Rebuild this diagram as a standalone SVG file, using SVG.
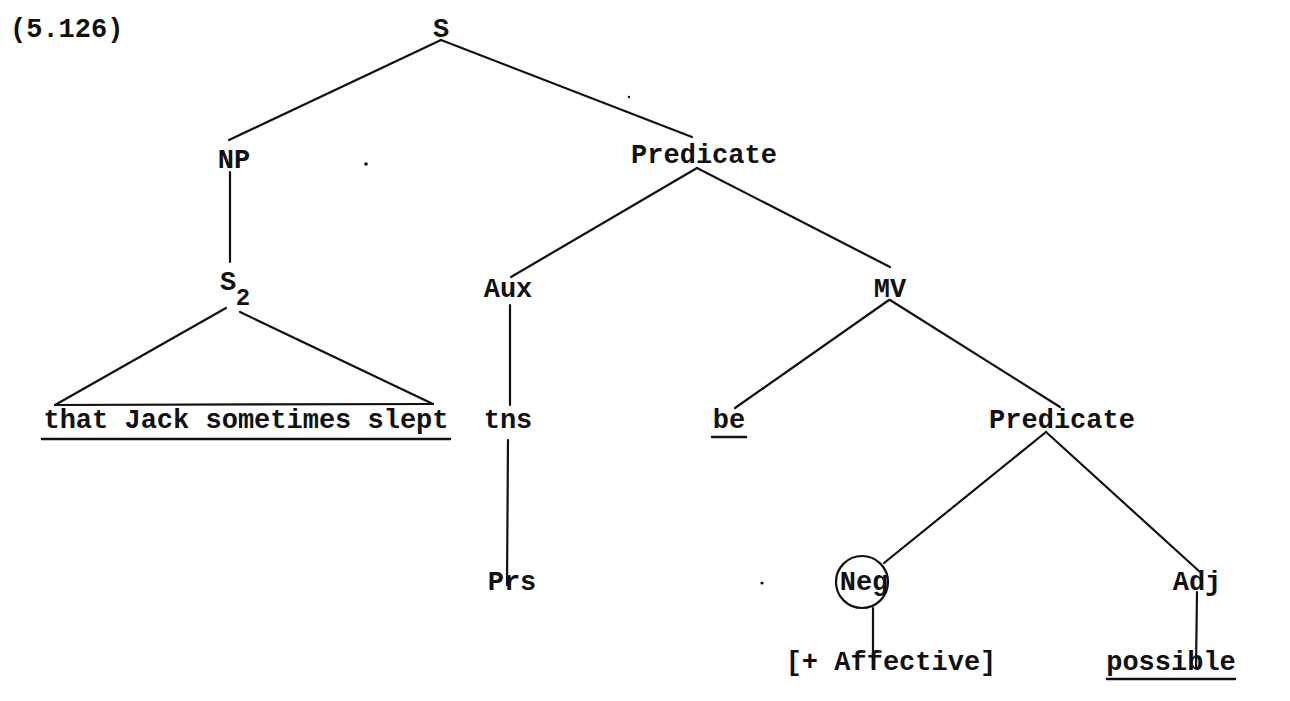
<svg xmlns="http://www.w3.org/2000/svg" width="1290" height="701" viewBox="0 0 1290 701">
<style>
text{font-family:"Liberation Mono","DejaVu Sans Mono",monospace;font-weight:bold;font-size:27px;fill:#111}
.sub{font-size:24px}
line,.c{stroke:#111;stroke-width:2.2;fill:none;stroke-linecap:round}
.u{stroke-width:2.5}
</style>
<rect width="1290" height="701" fill="#fff"/>
<text x="10" y="37">(5.126)</text>
<g id="connectors">
<line x1="441" y1="40" x2="229" y2="140"/>
<line x1="441" y1="40" x2="692" y2="137"/>
<line x1="230" y1="172" x2="230" y2="262"/>
<line x1="226" y1="308" x2="55" y2="405"/>
<line x1="240" y1="312" x2="433" y2="404"/>
<line x1="55" y1="405" x2="433" y2="404"/>
<line x1="697" y1="168" x2="511" y2="277"/>
<line x1="697" y1="168" x2="890" y2="267"/>
<line x1="510" y1="305" x2="510" y2="405"/>
<line x1="508" y1="440" x2="507" y2="585"/>
<line x1="889" y1="300" x2="735" y2="408"/>
<line x1="890" y1="300" x2="1060" y2="407"/>
<line x1="1046" y1="432" x2="884" y2="563"/>
<line x1="1046" y1="432" x2="1200" y2="572"/>
<line x1="873" y1="608" x2="873" y2="668"/>
<line x1="1197" y1="592" x2="1196" y2="668"/>
</g>
<g id="n-S"><text x="441" y="37" text-anchor="middle">S</text></g>
<g id="n-NP"><text x="234" y="168" text-anchor="middle">NP</text></g>
<g id="n-Predicate1"><text x="704" y="163" text-anchor="middle">Predicate</text></g>
<g id="n-S2"><text x="228" y="290" text-anchor="middle">S</text><text class="sub" x="243" y="305" text-anchor="middle">2</text></g>
<g id="n-Aux"><text x="508" y="297" text-anchor="middle">Aux</text></g>
<g id="n-MV"><text x="890" y="297" text-anchor="middle">MV</text></g>
<g id="n-that"><text x="246" y="428" text-anchor="middle">that Jack sometimes slept</text><line class="u" x1="42" y1="439" x2="450" y2="439"/></g>
<g id="n-tns"><text x="508" y="428" text-anchor="middle">tns</text></g>
<g id="n-be"><text x="729" y="428" text-anchor="middle">be</text><line class="u" x1="712" y1="437" x2="746" y2="437"/></g>
<g id="n-Predicate2"><text x="1062" y="428" text-anchor="middle">Predicate</text></g>
<g id="n-Prs"><text x="512" y="590" text-anchor="middle">Prs</text></g>
<g id="n-Neg"><circle class="c" cx="862" cy="582" r="26"/><text x="864" y="590" text-anchor="middle">Neg</text></g>
<g id="n-Adj"><text x="1197" y="590" text-anchor="middle">Adj</text></g>
<g id="n-Affective"><text x="891" y="670" text-anchor="middle">[+ Affective]</text></g>
<g id="n-possible"><text x="1171" y="670" text-anchor="middle">possible</text><line class="u" x1="1107" y1="679" x2="1235" y2="679"/></g>
<circle cx="366" cy="164" r="1.8" fill="#111"/>
<circle cx="629" cy="97" r="1.2" fill="#111"/>
<circle cx="762" cy="583" r="1.6" fill="#111"/>
</svg>
